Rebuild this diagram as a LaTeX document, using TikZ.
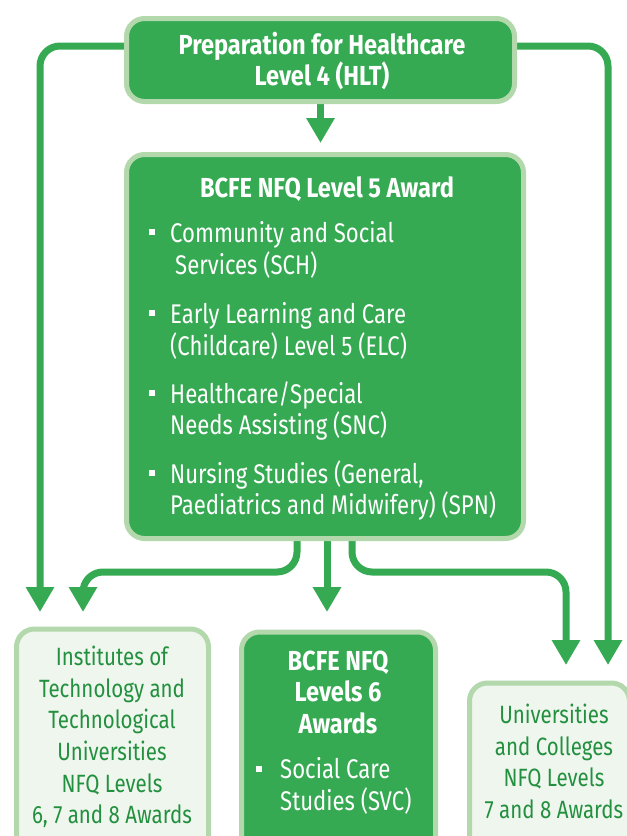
\documentclass[tikz,border=0pt]{standalone}
\usepackage{fontspec}
\setmainfont[FakeStretch=0.82, BoldFeatures={FakeStretch=0.86}]{Fira Sans}
\usetikzlibrary{arrows.meta}
\definecolor{gfill}{HTML}{36AA52}
\definecolor{gline}{HTML}{36AA52}
\definecolor{gborder}{HTML}{B2D8AC}
\definecolor{lfill}{HTML}{EFF6EE}
\definecolor{dtext}{HTML}{22903E}
\pgfdeclarelayer{bg}
\pgfsetlayers{bg,main}
\begin{document}
\begin{tikzpicture}[x=1pt,y=-1pt,
 conn/.style={draw=gline, line width=7pt, rounded corners=20pt, -{Triangle[width=27pt,length=25pt]}},
 gbox/.style={draw=gborder, fill=gfill, line width=5pt, rounded corners=18pt, inner sep=0pt},
 lbox/.style={draw=gborder, fill=lfill, line width=5pt, rounded corners=18pt, inner sep=0pt},
 wt/.style={text=white, font=\fontsize{27}{31}\selectfont, inner sep=0pt},
 wb/.style={text=white, font=\fontsize{27.5}{31.5}\selectfont\bfseries, inner sep=0pt, align=center},
 dt/.style={text=dtext, font=\fontsize{25}{31.6}\selectfont, inner sep=0pt, align=center},
 bul/.style={fill=white, minimum size=6pt, inner sep=0pt},
]
\useasboundingbox (0,0) rectangle (627,836);
\clip (0,0) rectangle (627,836);

% boxes
\node[gbox, minimum width=388pt, minimum height=83pt] (top) at (320.5,60) {};
\node[gbox, minimum width=397pt, minimum height=384pt] (mid) at (325,346.5) {};
\node[lbox, minimum width=192pt, minimum height=280pt, anchor=north] (itt) at (112.5,626.5) {};
\node[gbox, minimum width=194pt, minimum height=280pt, anchor=north] (l6) at (338.5,629.5) {};
\node[lbox, minimum width=160pt, minimum height=240pt, anchor=north] (uni) at (549.5,680.5) {};

% coordinates for connectors
\coordinate (lt) at (40,46);
\coordinate (lb) at (40,612);
\coordinate (rt) at (608,46);
\coordinate (rb) at (608,665);
\coordinate (sl) at (297,572);
\coordinate (al) at (83,612);
\coordinate (ac) at (327,612);
\coordinate (sr) at (352,572);
\coordinate (ar) at (566,665);

\begin{pgfonlayer}{bg}
\draw[conn] (top.west |- lt) -- (lt) -- (lb);
\draw[conn] (top.east |- rt) -- (rt) -- (rb);
\draw[conn, shorten >=9pt] (top.south) -- (top.south |- mid.north);
\draw[conn] (mid.south -| sl) -- (sl) -- (al |- sl) -- (al);
\draw[conn] (mid.south -| ac) -- (ac);
\draw[conn] (mid.south -| sr) -- (sr) -- (ar |- sr) -- (ar);
\end{pgfonlayer}

% top text
\node[wb] (t1) at (322,61) {Preparation for Healthcare\\Level 4 (HLT)};

% middle box text
\node[wb] (t2) at (327,189) {BCFE NFQ Level 5 Award};
\node[bul] (b1) at (152,232) {};
\node[bul] (b2) at (152,313) {};
\node[bul] (b3) at (152,393) {};
\node[bul] (b4) at (152,473) {};
\node[wt, anchor=base west] (i1a) at (170,242) {Community and Social};
\node[wt, anchor=base west] (i1b) at (175,274) {Services (SCH)};
\node[wt, anchor=base west] (i2a) at (170,323) {Early Learning and Care};
\node[wt, anchor=base west] (i2b) at (170,355) {(Childcare) Level 5 (ELC)};
\node[wt, anchor=base west] (i3a) at (170,403) {Healthcare/Special};
\node[wt, anchor=base west] (i3b) at (170,434) {Needs Assisting (SNC)};
\node[wt, anchor=base west] (i4a) at (170,483) {Nursing Studies (General,};
\node[wt, anchor=base west] (i4b) at (170,514) {Paediatrics and Midwifery) (SPN)};

% bottom left
\node[dt] (t3) at (112,737) {Institutes of\\Technology and\\Technological\\Universities\\NFQ Levels\\6, 7 and 8 Awards};

% bottom middle
\node[wb] (t4) at (338,692) {BCFE NFQ\\Levels 6\\Awards};
\node[bul] (b5) at (259,769) {};
\node[wt, anchor=base west] (i5a) at (280,778) {Social Care};
\node[wt, anchor=base west] (i5b) at (280,810) {Studies (SVC)};

% bottom right
\node[dt] (t5) at (554,761.5) {Universities\\and Colleges\\NFQ Levels\\7 and 8 Awards};
\end{tikzpicture}
\end{document}
